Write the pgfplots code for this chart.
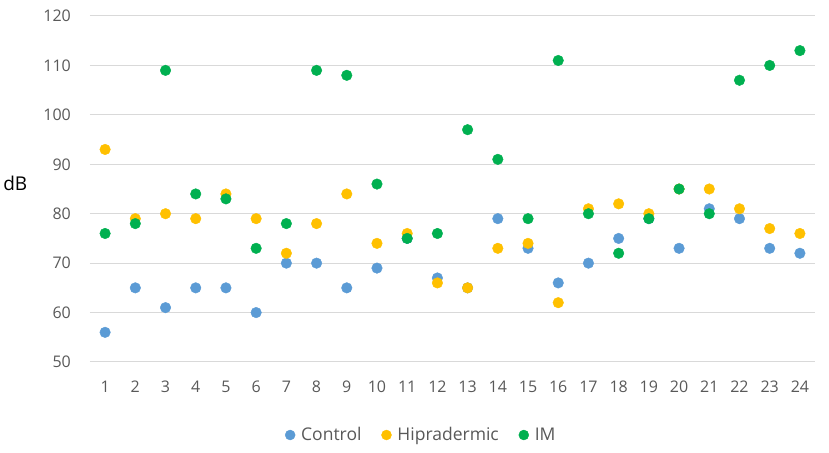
\documentclass[border=0pt]{standalone}
\usepackage{pgfplots}
\pgfplotsset{compat=1.18}
\usepackage{fontspec}
\setmainfont{Open Sans}
\definecolor{cblue}{HTML}{5B9BD5}
\definecolor{cyellow}{HTML}{FFC000}
\definecolor{cgreen}{HTML}{00B050}
\definecolor{tickgray}{HTML}{595959}
\definecolor{gridgray}{HTML}{D9D9D9}
\begin{document}
\begin{tikzpicture}[x=1pt,y=1pt]
\useasboundingbox (0,0) rectangle (829,452);
\begin{axis}[
  at={(90pt,90pt)}, anchor=south west,
  scale only axis, width=725pt, height=346pt,
  xmin=0.5, xmax=24.5, ymin=50, ymax=120,
  xtick={1,...,24}, ytick={50,60,...,120},
  axis line style={draw=none},
  major tick length=0pt,
  ymajorgrids, grid style={gridgray, line width=1pt},
  tick label style={font=\fontsize{16}{18}\selectfont, text=tickgray},
  /pgf/number format/assume math mode=true,
  yticklabel style={inner sep=0pt, xshift=-19pt},
  xticklabel style={inner sep=0pt, yshift=-19pt},
  ylabel={dB},
  ylabel style={rotate=-90, at={(rel axis cs:-0.103,0.517)}, anchor=center, font=\fontsize{19}{21}\selectfont},
  legend style={draw=none, at={(0.457,-0.211)}, anchor=center, legend columns=3,
    font=\fontsize{17.5}{19}\selectfont, text=tickgray,
    /tikz/every odd column/.append style={column sep=4pt},
    /tikz/every even column/.append style={column sep=18pt}},
  legend cell align=left,
  legend image code/.code={\draw[#1, mark size=5pt] plot coordinates {(0pt,0pt)};},
]
\addplot[only marks, mark=*, mark size=5.3pt, cblue, mark options={draw=cblue, fill=cblue}] coordinates {
(1,56) (2,65) (3,61) (4,65) (5,65) (6,60) (7,70) (8,70) (9,65) (10,69) (11,75) (12,67)
(13,65) (14,79) (15,73) (16,66) (17,70) (18,75) (19,79) (20,73) (21,81) (22,79) (23,73) (24,72)};
\addlegendentry{Control}
\addplot[only marks, mark=*, mark size=5.3pt, cyellow, mark options={draw=cyellow, fill=cyellow}] coordinates {
(1,93) (2,79) (3,80) (4,79) (5,84) (6,79) (7,72) (8,78) (9,84) (10,74) (11,76) (12,66)
(13,65) (14,73) (15,74) (16,62) (17,81) (18,82) (19,80) (20,85) (21,85) (22,81) (23,77) (24,76)};
\addlegendentry{Hipradermic}
\addplot[only marks, mark=*, mark size=5.3pt, cgreen, mark options={draw=cgreen, fill=cgreen}] coordinates {
(1,76) (2,78) (3,109) (4,84) (5,83) (6,73) (7,78) (8,109) (9,108) (10,86) (11,75) (12,76)
(13,97) (14,91) (15,79) (16,111) (17,80) (18,72) (19,79) (20,85) (21,80) (22,107) (23,110) (24,113)};
\addlegendentry{IM}
\end{axis}
\end{tikzpicture}
\end{document}
